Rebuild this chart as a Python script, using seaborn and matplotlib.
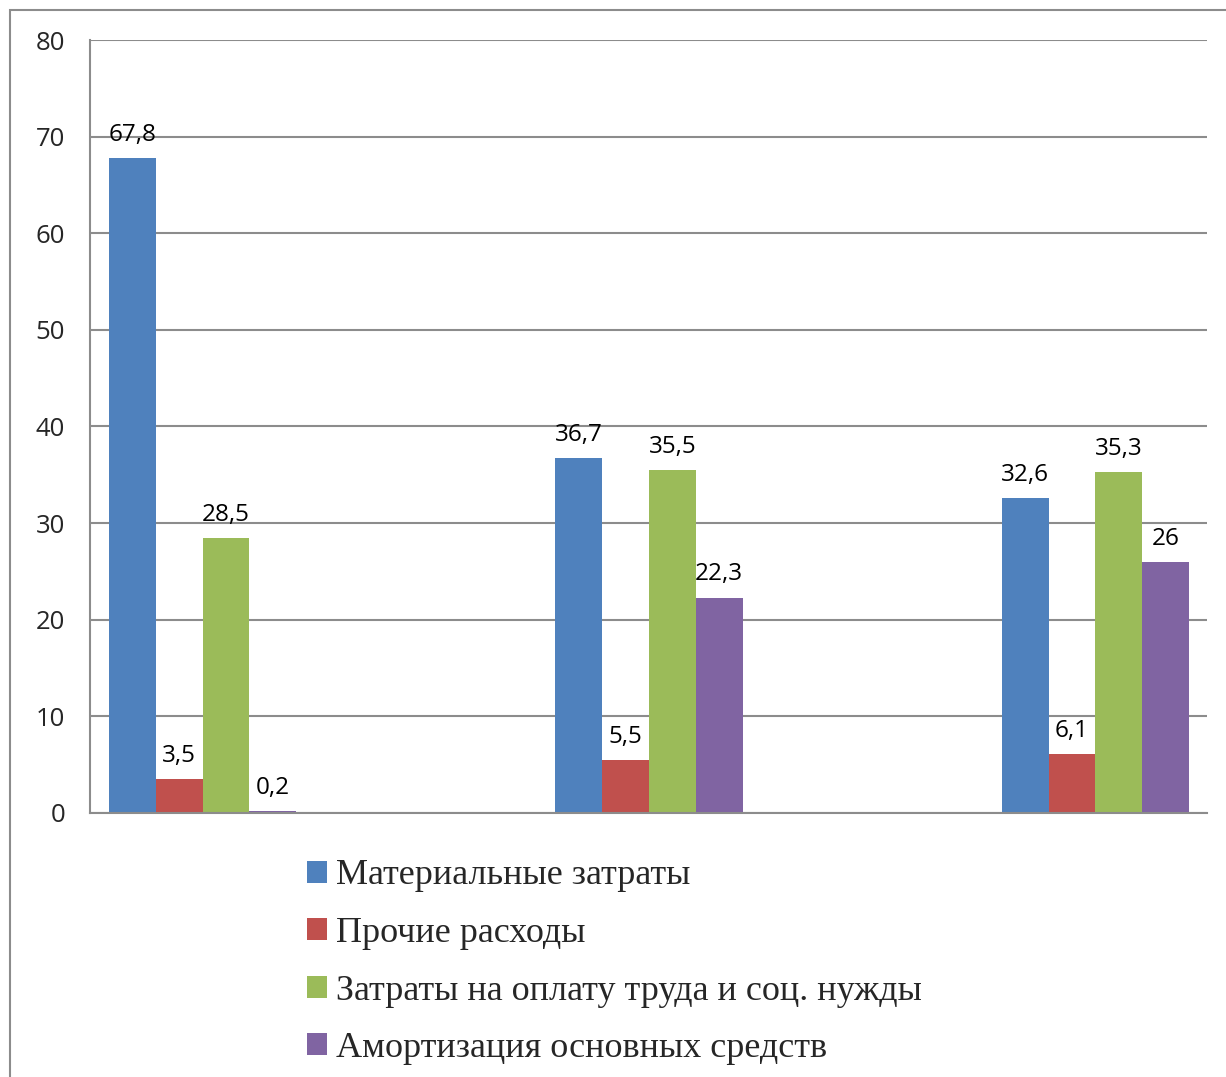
import numpy as np
import pandas as pd
import seaborn as sns
import matplotlib.pyplot as plt
from matplotlib.patches import Rectangle

# данные
groups = ['1', '2', '3']
series = ['Материальные затраты', 'Прочие расходы',
          'Затраты на оплату труда и соц. нужды', 'Амортизация основных средств']
material = [67.8, 36.7, 32.6]
other = [3.5, 5.5, 6.1]
labour = [28.5, 35.5, 35.3]
amort = [0.2, 22.3, 26]
colors = ['#4F81BD', '#C0504D', '#9BBB59', '#8064A2']

df = pd.DataFrame({
    'group': groups * 4,
    'series': [s for s in series for _ in groups],
    'value': material + other + labour + amort,
})

sns.set_theme(style='white')
plt.rcParams['font.family'] = ['Open Sans', 'DejaVu Sans']

fig = plt.figure(figsize=(12.26, 10.77), dpi=100)
ax = fig.add_axes([90/1226, 1-813/1077, (1207-90)/1226, (813-40)/1077])

sns.barplot(data=df, x='group', y='value', hue='series', hue_order=series,
            palette=colors, width=0.42, saturation=1, ax=ax, legend=True,
            linewidth=0)

for c in ax.containers:
    ax.bar_label(c, labels=[('%g' % v).replace('.', ',') for v in c.datavalues],
                 padding=8, fontsize=17.5, color='black')

ax.set_xlim(-0.252, 2.25)
ax.set_ylim(0, 80)
ax.set_yticks(range(0, 81, 10))
ax.yaxis.grid(True, color='#8c8c8c', linewidth=1.5)
ax.set_axisbelow(True)
ax.set_xticks([])
ax.set_xlabel('')
ax.set_ylabel('')
ax.tick_params(axis='y', labelsize=18.5, pad=18, length=0)
for s in ['top', 'right']:
    ax.spines[s].set_visible(False)
for s in ['left', 'bottom']:
    ax.spines[s].set_color('#8c8c8c')
    ax.spines[s].set_linewidth(1.5)

# легенда снизу
h, l = ax.get_legend_handles_labels()
ax.legend(h, l, loc='upper left', bbox_to_anchor=(293/1226, 1-845/1077),
          bbox_transform=fig.transFigure, frameon=False,
          prop={'family': 'Liberation Serif', 'size': 26},
          handlelength=0.55, handleheight=0.55, handletextpad=0.25,
          labelspacing=0.68, borderaxespad=0)

# рамка диаграммы
fig.add_artist(Rectangle((10/1226, -0.1), 1.2, 1-10/1077+0.1,
                         transform=fig.transFigure, fill=False,
                         edgecolor='#8c8c8c', linewidth=1.5))

fig.savefig('out.png', dpi=100)
